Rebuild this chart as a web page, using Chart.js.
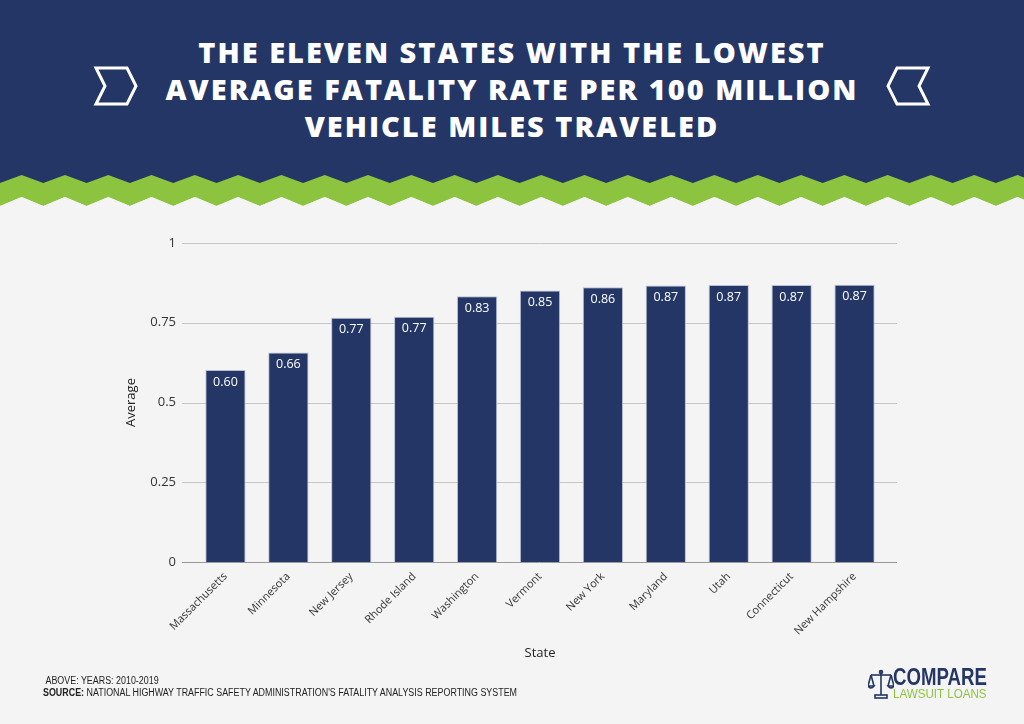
<!DOCTYPE html>
<html>
<head>
<meta charset="utf-8">
<script src="https://cdn.jsdelivr.net/npm/chart.js@4.4.1/dist/chart.umd.min.js"></script>
<style>
  html, body { margin: 0; padding: 0; }
  body { width: 1024px; height: 724px; background: #f4f4f4; position: relative; overflow: hidden; font-family: 'Open Sans', sans-serif; }
  #header { position: absolute; left: 0; top: 0; width: 1024px; height: 190px; background: #243665; }
  #title { position: absolute; left: 0; top: 33px; width: 1024px; text-align: center; color: #fff;
           font-weight: 800; font-size: 29px; line-height: 37px; letter-spacing: 2px; }
  #deco { position: absolute; left: 0; top: 0; }
  #chart { position: absolute; left: 0; top: 0; }
  #note { position: absolute; left: 43px; top: 675px; font-family: 'Liberation Sans', sans-serif;
          font-size: 10px; line-height: 12px; color: #222; text-transform: uppercase; white-space: nowrap;
          transform: scaleX(0.89); transform-origin: 0 0; }
  #note b { font-weight: 700; }
  #logo { position: absolute; left: 868px; top: 666px; width: 130px; height: 36px; }
  #logo .c1 { position: absolute; left: 25px; top: 0px; font-family: 'Liberation Sans', sans-serif; white-space: nowrap;
              font-weight: 700; font-size: 23px; line-height: 23px; color: #243665;
              transform: scaleX(0.81); transform-origin: 0 0; }
  #logo .c2 { position: absolute; left: 25px; top: 21px; font-family: 'Liberation Sans', sans-serif; white-space: nowrap;
              font-size: 13.5px; line-height: 14px; color: #8cc43f;
              transform: scaleX(0.86); transform-origin: 0 0; }
</style>
</head>
<body>
<div id="header"></div>
<svg id="deco" width="1024" height="724"></svg>
<div id="title">THE ELEVEN STATES WITH THE LOWEST<br>AVERAGE FATALITY RATE PER 100 MILLION<br>VEHICLE MILES TRAVELED</div>
<canvas id="chart" width="1024" height="724"></canvas>
<div id="note">&nbsp;Above: Years: 2010-2019<br><b>Source:</b> National Highway Traffic Safety Administration's Fatality Analysis Reporting System</div>
<div id="logo">
  <svg width="26" height="34" style="position:absolute;left:0;top:2px" fill="none" stroke="#243665" stroke-width="1.6">
    <line x1="13" y1="3" x2="13" y2="27"/>
    <line x1="3" y1="7" x2="23" y2="7"/>
    <path d="M3 7 L0 18 M3 7 L6 18 M0 18 Q3 22 6 18 Z"/>
    <path d="M23 7 L20 18 M23 7 L26 18 M20 18 Q23 22 26 18 Z"/>
    <rect x="7" y="27" width="12" height="3"/>
    <circle cx="13" cy="4" r="1.5"/>
  </svg>
  <div class="c1">COMPARE</div>
  <div class="c2">LAWSUIT LOANS</div>
</div>
<script>
// data
const states = ['Massachusetts', 'Minnesota', 'New Jersey', 'Rhode Island', 'Washington', 'Vermont',
  'New York', 'Maryland', 'Utah', 'Connecticut', 'New Hampshire'];
const averages = [0.602, 0.657, 0.766, 0.769, 0.833, 0.851, 0.861, 0.867, 0.868, 0.868, 0.869];
const yTicks = [0, 0.25, 0.5, 0.75, 1];

const NAVY = '#243665';
const GREEN = '#8cc43f';

// header zigzag band + chevrons
(function drawDeco() {
  const svg = document.getElementById('deco');
  const ns = 'http://www.w3.org/2000/svg';
  const period = 43.3;
  let top = [], bottom = [];
  for (let x = -period; x <= 1024 + period; x += period / 2) {
    const peak = Math.round(((x - 20) / (period / 2))) % 2 === 0;
    top.push([x, peak ? 175 : 183]);
    bottom.push([x, peak ? 197 : 206]);
  }
  const green = document.createElementNS(ns, 'polygon');
  green.setAttribute('points', top.map(p => p.join(',')).join(' ') + ' ' +
    bottom.slice().reverse().map(p => p.join(',')).join(' '));
  green.setAttribute('fill', GREEN);
  svg.appendChild(green);
  const gray = document.createElementNS(ns, 'polygon');
  gray.setAttribute('points', bottom.map(p => p.join(',')).join(' ') + ' 1100,230 -100,230');
  gray.setAttribute('fill', '#f4f4f4');
  svg.appendChild(gray);

  const left = [[96, 68], [127, 68], [136, 86], [127, 104], [96, 104], [105, 86]];
  [left, left.map(p => [1024 - p[0], p[1]])].forEach(pts => {
    const ch = document.createElementNS(ns, 'polygon');
    ch.setAttribute('points', pts.map(p => p.join(',')).join(' '));
    ch.setAttribute('fill', 'none');
    ch.setAttribute('stroke', '#fff');
    ch.setAttribute('stroke-width', '3');
    svg.appendChild(ch);
  });
})();

Chart.defaults.font.family = "'Open Sans', sans-serif";
Chart.defaults.color = '#333';

// horizontal grid lines, a bit wider than the plot area
const gridLines = {
  id: 'gridLines',
  beforeDatasetsDraw(chart) {
    const { ctx, chartArea, scales: { y } } = chart;
    ctx.save();
    ctx.lineWidth = 1;
    yTicks.forEach(v => {
      const py = Math.round(y.getPixelForValue(v)) + 0.5;
      ctx.strokeStyle = v === 0 ? '#9a9a9a' : '#c6c6c6';
      ctx.beginPath();
      ctx.moveTo(chartArea.left - 12, py);
      ctx.lineTo(chartArea.right + 11, py);
      ctx.stroke();
    });
    ctx.restore();
  }
};

// value labels inside the top of each bar
const barValues = {
  id: 'barValues',
  afterDatasetsDraw(chart) {
    const { ctx } = chart;
    const meta = chart.getDatasetMeta(0);
    ctx.save();
    ctx.fillStyle = '#fff';
    ctx.font = "12.5px 'Open Sans', sans-serif";
    ctx.textAlign = 'center';
    ctx.textBaseline = 'middle';
    meta.data.forEach((bar, i) => {
      ctx.fillText(averages[i].toFixed(2), bar.x, bar.y + 12);
    });
    ctx.restore();
  }
};

new Chart(document.getElementById('chart'), {
  type: 'bar',
  data: {
    labels: states,
    datasets: [{
      label: 'Average',
      data: averages,
      backgroundColor: NAVY,
      borderColor: '#b9bfd2',
      borderWidth: 1,
      barPercentage: 0.64,
      categoryPercentage: 1
    }]
  },
  options: {
    responsive: false,
    animation: false,
    layout: { padding: { left: 118, right: 138, top: 243, bottom: 59 } },
    plugins: { legend: { display: false }, tooltip: { enabled: false } },
    scales: {
      x: {
        grid: { display: false, drawTicks: false },
        border: { display: false },
        ticks: { maxRotation: 45, minRotation: 45, padding: 8, color: '#333', font: { size: 11 } },
        title: { display: true, text: 'State', color: '#222', font: { size: 13 }, padding: { top: 4, bottom: 4 } },
        afterFit(scale) { scale.height = 103; }
      },
      y: {
        min: 0,
        max: 1,
        grid: { display: false, drawTicks: false },
        border: { display: false },
        afterBuildTicks(scale) { scale.ticks = yTicks.map(v => ({ value: v })); },
        ticks: { padding: 18, color: '#333', font: { size: 13 }, callback: v => String(v) },
        title: { display: true, text: 'Average', color: '#222', font: { size: 13 }, padding: { top: 5, bottom: 4 } },
        afterFit(scale) { scale.width = 76; }
      }
    }
  },
  plugins: [gridLines, barValues]
});
</script>
</body>
</html>
